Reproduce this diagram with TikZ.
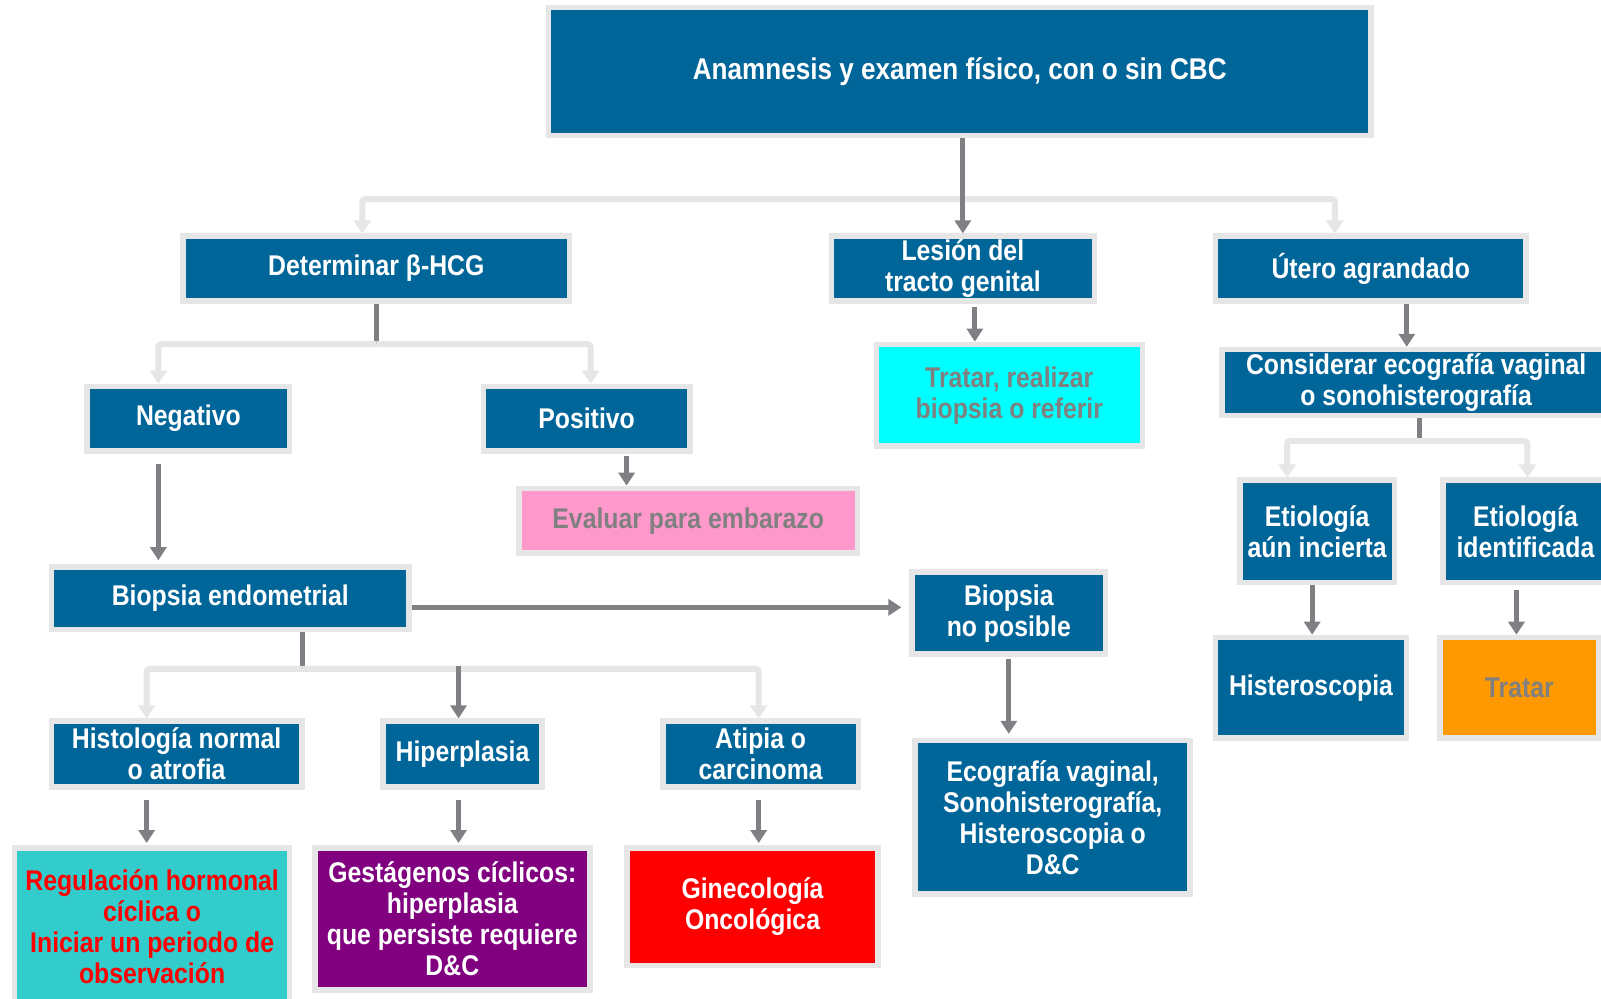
\documentclass[tikz,border=0pt]{standalone}
\usepackage{fontspec}
\setmainfont{Liberation Sans}[FakeStretch=0.87]
\usetikzlibrary{arrows.meta,positioning,calc}

\definecolor{boxblue}{RGB}{0,102,153}
\definecolor{rimgray}{RGB}{230,230,230}
\definecolor{arrowgray}{RGB}{128,128,132}
\definecolor{txtgray}{RGB}{128,128,128}
\definecolor{evalpink}{RGB}{255,153,204}
\definecolor{lesioncyan}{RGB}{0,255,255}
\definecolor{regteal}{RGB}{51,204,204}
\definecolor{gestpurple}{RGB}{128,0,128}
\definecolor{oncored}{RGB}{255,0,0}
\definecolor{tratorange}{RGB}{255,153,0}

\begin{document}
\begin{tikzpicture}[x=1.021pt,y=-1.021pt,
    box/.style={draw=rimgray,line width=5.5pt,fill=boxblue,text=white,
      font=\bfseries\fontsize{28.5}{31}\selectfont,align=center,inner sep=0pt},
    boxsize/.style 2 args={minimum width=#1*1.021pt+5.5pt,minimum height=#2*1.021pt+5.5pt},
    dark/.style={-{Triangle[width=16pt,length=13pt]},line width=5pt,draw=arrowgray},
    stub/.style={line width=5pt,draw=arrowgray},
    soft/.style={-{Triangle[width=17pt,length=13pt]},line width=6pt,draw=rimgray,rounded corners=3pt}
  ]

  \useasboundingbox (0,0) rectangle (1568,978);
  \fill[white] (0,0) rectangle (1568,978);

  % Start
  \node[box,boxsize={800}{120},font=\bfseries\fontsize{30}{33}\selectfont] (anam) at (940,70) {Anamnesis y examen físico, con o sin CBC};

  % Level 1
  \node[box,boxsize={373}{58}] (hcg) at (368.5,263) {Determinar β-HCG};
  \node[box,boxsize={252}{58}] (lesion) at (943,263) {Lesión del\\tracto genital};
  \node[box,boxsize={299}{58}] (utero) at (1342.5,263) {Útero agrandado};

  % beta-HCG branch
  \node[box,boxsize={193}{58}] (neg) at (184.5,410) {Negativo};
  \node[box,boxsize={197}{58}] (pos) at (574.5,410) {Positivo};
  \node[box,boxsize={326}{58},fill=evalpink,text=txtgray] (embarazo) at (674,510) {Evaluar para embarazo};
  \node[box,boxsize={345}{56}] (biopsia) at (225.5,586) {Biopsia endometrial};
  \node[box,boxsize={184}{75}] (nobiop) at (988,600.5) {Biopsia\\no posible};
  \node[box,boxsize={264}{145}] (eco) at (1031,800.5) {Ecografía vaginal,\\Sonohisterografía,\\Histeroscopia o\\D\&C};

  % Biopsy results
  \node[box,boxsize={240}{59}] (histo) at (173,738.5) {Histología normal\\o atrofia};
  \node[box,boxsize={150}{59}] (hiper) at (453,738.5) {Hiperplasia};
  \node[box,boxsize={186}{59}] (atipia) at (745,738.5) {Atipia o\\carcinoma};
  \node[box,boxsize={264}{150},fill=regteal,text=oncored] (hormonal) at (149,908) {Regulación hormonal\\cíclica o\\Iniciar un periodo de\\observación};
  \node[box,boxsize={264}{134},fill=gestpurple] (gestag) at (443,900) {Gestágenos cíclicos:\\hiperplasia\\que persiste requiere\\D\&C};
  \node[box,boxsize={240}{110},fill=oncored] (onco) at (737,888) {Ginecología\\Oncológica};

  % Lesion branch
  \node[box,boxsize={255}{94},fill=lesioncyan,text=txtgray] (tratar) at (988.5,387) {Tratar, realizar\\biopsia o referir};

  % Uterus branch
  \node[box,boxsize={375}{59}] (ecovag) at (1387,374.5) {Considerar ecografía vaginal\\o sonohisterografía};
  \node[box,boxsize={146}{95}] (incierta) at (1290,520.5) {Etiología\\aún incierta};
  \node[box,boxsize={156}{95}] (identif) at (1494,520.5) {Etiología\\identificada};
  \node[box,boxsize={182}{93}] (histeros) at (1284,673.5) {Histeroscopia};
  \node[box,boxsize={150}{93},fill=tratorange,text=txtgray] (tratar2) at (1488,673.5) {Tratar};

  % Connectors, top level
  \coordinate (j0) at (943,195);
  \draw[soft] (j0) -| ([xshift=-14pt]hcg.north);
  \draw[soft] (j0) -| ([xshift=-36pt]utero.north);
  \draw[dark] (anam.south -| lesion.north) -- (lesion.north);

  % beta-HCG
  \draw[stub] (hcg.south) -- (hcg.south |- 0,337) coordinate (j1);
  \draw[soft] (j1) -| ([xshift=-30pt]neg.north);
  \draw[soft] (j1) -| ([xshift=4pt]pos.north);
  \draw[dark,shorten <=2pt] ([xshift=40pt]pos.south) -- ([xshift=40pt]pos.south |- embarazo.north);
  \draw[dark,shorten <=10pt,shorten >=4pt] ([xshift=-30pt]neg.south) -- ([xshift=-30pt]neg.south |- biopsia.north);
  \draw[dark,shorten >=8pt] ([yshift=-9pt]biopsia.east) -- ([yshift=-9pt]biopsia.east -| nobiop.west);
  \draw[dark,shorten <=2pt,shorten >=4pt] (nobiop.south) -- (nobiop.south |- eco.north);

  % Endometrial biopsy
  \draw[stub] ([xshift=72pt]biopsia.south) -- ([xshift=72pt]biopsia.south |- 0,655) coordinate (j2);
  \draw[soft] (j2) -| ([xshift=-30pt]histo.north);
  \draw[soft] (j2) -| ([xshift=-2pt]atipia.north);
  \draw[dark] ([xshift=-4pt]hiper.north |- 0,652) -- ([xshift=-4pt]hiper.north);
  \draw[dark,shorten <=10pt,shorten >=2pt] ([xshift=-30pt]histo.south) -- ([xshift=-30pt]histo.south |- hormonal.north);
  \draw[dark,shorten <=10pt,shorten >=2pt] ([xshift=-4pt]hiper.south) -- ([xshift=-4pt]hiper.south |- gestag.north);
  \draw[dark,shorten <=10pt,shorten >=2pt] ([xshift=-2pt]atipia.south) -- ([xshift=-2pt]atipia.south |- onco.north);

  % Lesion
  \draw[dark,shorten <=3pt] ([xshift=12pt]lesion.south) -- ([xshift=12pt]lesion.south |- tratar.north);

  % Uterus
  \draw[dark] ([xshift=36pt]utero.south) -- ([xshift=36pt]utero.south |- ecovag.north);
  \draw[stub] ([xshift=3pt]ecovag.south) -- ([xshift=3pt]ecovag.south |- 0,432) coordinate (j3);
  \draw[soft] (j3) -| ([xshift=-30pt]incierta.north);
  \draw[soft] (j3) -| ([xshift=2pt]identif.north);
  \draw[dark] ([xshift=-5pt]incierta.south) -- ([xshift=-5pt]incierta.south |- histeros.north);
  \draw[dark,shorten <=5pt] ([xshift=-9pt]identif.south) -- ([xshift=-9pt]identif.south |- tratar2.north);

\end{tikzpicture}
\end{document}
